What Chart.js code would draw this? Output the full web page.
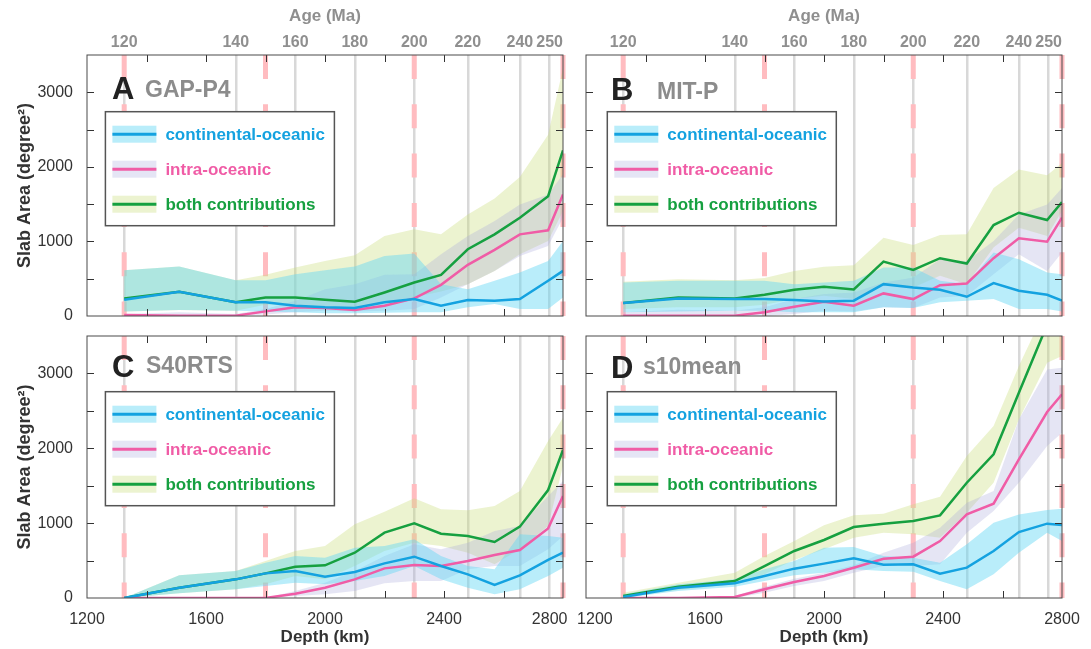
<!DOCTYPE html>
<html>
<head>
<meta charset="utf-8">
<script src="https://cdn.jsdelivr.net/npm/chart.js@4/dist/chart.umd.min.js"></script>
<style>
  body { margin: 0; background: #fff; width: 1091px; height: 649px; position: relative; overflow: hidden; }
  canvas { position: absolute; }
</style>
</head>
<body>
<canvas id="pA" width="575" height="330" style="left:0;top:0"></canvas>
<canvas id="pB" width="521" height="330" style="left:570px;top:0"></canvas>
<canvas id="pC" width="575" height="329" style="left:0;top:320px"></canvas>
<canvas id="pD" width="521" height="329" style="left:570px;top:320px"></canvas>
<script>
// sample depths (km), one per 10 Myr from 120 Ma
const depths = [1325, 1510, 1700, 1800, 1900, 2000, 2100, 2200, 2300, 2390, 2480, 2570, 2655, 2750, 2800]

// top axis: ages and the depth they sit at
const ageTicks = [120, 140, 160, 180, 200, 220, 240, 250]
const ageTickDepths = [1325, 1700, 1900, 2100, 2300, 2480, 2655, 2755]
const boundaryDepths = [1325, 1800, 2300, 2800]

const depthLabels = [1200, 1600, 2000, 2400, 2800]
const depthMinor = [1400, 1600, 1800, 2000, 2200, 2400, 2600]
const areaLabels = [0, 1000, 2000, 3000]
const areaMinor = [500, 1000, 1500, 2000, 2500, 3000]

const seriesNames = ['continental-oceanic', 'intra-oceanic', 'both contributions']

// A  GAP-P4
const gapCO   = [218, 325, 183, 183, 138, 116, 107, 183, 227, 138, 214, 205, 227, 472, 605]
const gapCOHi = [614, 663, 481, 481, 561, 614, 663, 806, 837, 427, 360, 472, 583, 739, 1006]
const gapCOLo = [62, 80, 71, 62, 49, 36, 36, 45, 49, 49, 116, 160, 93, 93, 249]
const gapIO   = [13, 4, 4, 62, 116, 107, 80, 138, 236, 418, 686, 886, 1095, 1149, 1629]
const gapIOHi = [27, 49, 27, 93, 205, 360, 427, 552, 561, 828, 1073, 1273, 1496, 1629, 1900]
const gapIOLo = [0, 0, 0, 20, 49, 71, 62, 71, 93, 249, 427, 605, 806, 939, 1318]
const gapBoth   = [236, 325, 183, 249, 249, 218, 191, 316, 450, 552, 895, 1095, 1318, 1607, 2222]
const gapBothHi = [614, 663, 481, 552, 650, 739, 815, 1073, 1162, 1095, 1362, 1576, 1865, 2431, 3321]
const gapBothLo = [62, 80, 71, 150, 150, 120, 110, 180, 250, 330, 427, 605, 828, 1006, 1407]

// B  MIT-P
const mitCO   = [174, 236, 227, 227, 214, 196, 205, 427, 383, 352, 258, 441, 338, 285, 205]
const mitCOHi = [450, 472, 472, 472, 427, 450, 472, 650, 650, 472, 427, 850, 761, 583, 561]
const mitCOLo = [49, 62, 71, 71, 49, 49, 49, 116, 107, 183, 205, 227, 93, 93, 62]
const mitIO   = [4, 4, 4, 49, 125, 191, 138, 303, 227, 414, 436, 775, 1042, 997, 1318]
const mitIOHi = [49, 85, 71, 116, 227, 294, 316, 450, 516, 761, 739, 1006, 1362, 1496, 1718]
const mitIOLo = [0, 0, 0, 0, 27, 71, 62, 116, 107, 249, 272, 561, 828, 605, 850]
const mitBoth   = [174, 249, 236, 285, 352, 392, 356, 730, 619, 775, 703, 1220, 1385, 1287, 1527]
const mitBothHi = [459, 494, 481, 508, 605, 659, 681, 1051, 953, 1086, 1095, 1718, 1963, 1888, 2052]
const mitBothLo = [93, 116, 116, 151, 227, 272, 227, 427, 383, 539, 427, 917, 1184, 1073, 1407]

// C  S40RTS
const s40CO   = [0, 138, 249, 329, 361, 285, 347, 463, 552, 427, 316, 174, 303, 508, 605]
const s40COHi = [0, 303, 361, 472, 561, 539, 672, 695, 784, 561, 427, 383, 850, 828, 806]
const s40COLo = [0, 62, 116, 160, 205, 183, 227, 294, 427, 249, 138, 49, 116, 294, 405]
const s40IO   = [0, 0, 0, 0, 58, 138, 249, 396, 441, 427, 494, 574, 641, 930, 1362]
const s40IOHi = [0, 0, 0, 0, 93, 205, 361, 561, 717, 650, 739, 895, 962, 1362, 1563]
const s40IOLo = [0, 0, 0, 0, 27, 49, 93, 196, 227, 227, 383, 427, 427, 650, 828]
const s40Both   = [0, 138, 249, 329, 418, 436, 605, 873, 997, 859, 828, 748, 953, 1442, 1977]
const s40BothHi = [0, 303, 361, 494, 628, 695, 984, 1153, 1331, 1184, 1171, 1229, 1429, 2097, 2409]
const s40BothLo = [0, 62, 116, 183, 294, 249, 427, 628, 739, 695, 605, 450, 650, 962, 1763]

// D  s10mean
const s10CO   = [13, 138, 196, 294, 392, 459, 530, 445, 450, 325, 405, 628, 881, 993, 975]
const s10COHi = [49, 183, 249, 383, 494, 672, 681, 561, 539, 472, 717, 1006, 1117, 1175, 1193]
const s10COLo = [0, 93, 151, 227, 303, 338, 383, 361, 352, 227, 116, 316, 605, 873, 761]
const s10IO   = [0, 0, 13, 116, 214, 294, 405, 525, 552, 761, 1117, 1260, 1852, 2484, 2720]
const s10IOHi = [0, 0, 27, 151, 258, 338, 436, 605, 739, 939, 1273, 1429, 2386, 3054, 3076]
const s10IOLo = [0, 0, 0, 71, 160, 227, 338, 427, 427, 450, 873, 1162, 1540, 2030, 2208]
const s10Both   = [27, 151, 227, 427, 628, 775, 948, 993, 1028, 1104, 1540, 1919, 2742, 3650, 4100]
const s10BothHi = [71, 205, 338, 561, 761, 971, 1104, 1126, 1251, 1353, 1897, 2297, 3099, 3900, 4300]
const s10BothLo = [4, 107, 183, 316, 508, 650, 806, 873, 850, 806, 1140, 1540, 2386, 3143, 3232]

const FONT = "'Liberation Sans', Arial, Helvetica, sans-serif"
const LINE = ['rgb(20,162,224)', 'rgb(240,92,166)', 'rgb(22,160,64)']
const BAND = ['rgba(100,215,245,0.45)', 'rgba(170,170,220,0.3)', 'rgba(200,220,120,0.35)']
const SWATCH = ['rgb(185,237,250)', 'rgb(229,229,245)', 'rgb(236,243,208)']

const pts = v => depths.map((d, i) => ({ x: d, y: v[i] }))

const decor = {
    id: 'decor',
    beforeDatasetsDraw(chart) {
        const { ctx, chartArea: a, scales: { x } } = chart
        ctx.save()
        ctx.strokeStyle = 'rgb(255,188,192)'
        ctx.lineWidth = 5
        ctx.setLineDash([24, 25.3])
        boundaryDepths.forEach(d => {
            const px = x.getPixelForValue(d)
            ctx.beginPath()
            ctx.moveTo(px, a.top)
            ctx.lineTo(px, a.bottom)
            ctx.stroke()
        })
        ctx.restore()
    },
    afterDatasetsDraw(chart) {
        const { ctx, chartArea: a, scales: { x, y } } = chart
        ctx.save()
        ctx.strokeStyle = '#333'
        ctx.lineWidth = 1
        ctx.beginPath()
        depthMinor.forEach(d => {
            const px = Math.round(x.getPixelForValue(d)) + 0.5
            ctx.moveTo(px, a.bottom); ctx.lineTo(px, a.bottom - 7)
            ctx.moveTo(px, a.top); ctx.lineTo(px, a.top + 7)
        })
        areaMinor.forEach(v => {
            const py = Math.round(y.getPixelForValue(v)) + 0.5
            ctx.moveTo(a.left, py); ctx.lineTo(a.left + 7, py)
            ctx.moveTo(a.right, py); ctx.lineTo(a.right - 7, py)
        })
        ctx.stroke()
        ctx.strokeStyle = '#4a4a4a'
        ctx.strokeRect(a.left, a.top, a.right - a.left, a.bottom - a.top)
        ctx.restore()
    },
    afterDraw(chart, args, o) {
        const { ctx, chartArea: a } = chart
        ctx.save()
        ctx.textBaseline = 'alphabetic'
        ctx.textAlign = 'left'
        ctx.fillStyle = '#222'
        ctx.font = `bold 31px ${FONT}`
        ctx.fillText(o.letter, a.left + 25, a.top + o.letterY)
        ctx.fillStyle = '#8c8c8c'
        ctx.font = `bold 23px ${FONT}`
        ctx.fillText(o.name, a.left + o.nameX, a.top + o.nameY)

        const bx = a.left + o.boxX, by = a.top + o.boxY
        ctx.fillStyle = '#fff'
        ctx.fillRect(bx, by, 229, 114)
        ctx.strokeStyle = '#555'
        ctx.lineWidth = 1.5
        ctx.strokeRect(bx, by, 229, 114)
        ctx.font = `bold 17px ${FONT}`
        ctx.textBaseline = 'middle'
        seriesNames.forEach((n, i) => {
            const cy = by + 22.5 + i * 35
            ctx.fillStyle = SWATCH[i]
            ctx.fillRect(bx + 7, cy - 8.5, 44, 17)
            ctx.strokeStyle = LINE[i]
            ctx.lineWidth = 3
            ctx.beginPath()
            ctx.moveTo(bx + 7, cy)
            ctx.lineTo(bx + 51, cy)
            ctx.stroke()
            ctx.fillStyle = LINE[i]
            ctx.fillText(n, bx + 60, cy + 1)
        })
        ctx.restore()
    }
}

function panel(id, series, p) {
    const [co, coHi, coLo, io, ioHi, ioLo, both, bothHi, bothLo] = series
    const line = (v, i) => ({ data: pts(v), borderColor: LINE[i], borderWidth: 2.5, fill: false, order: 0 })
    const band = (v, i, f) => ({ data: pts(v), borderWidth: 0, backgroundColor: BAND[i], fill: f ? '+1' : false, order: i + 1 })
    const tickFont = { family: FONT, size: 16 }
    const config = {
        type: 'line',
        data: {
            datasets: [
                line(co, 0), line(io, 1), line(both, 2),
                band(coHi, 0, true), band(coLo, 0, false),
                band(ioHi, 1, true), band(ioLo, 1, false),
                band(bothHi, 2, true), band(bothLo, 2, false)
            ]
        },
        options: {
            responsive: false,
            animation: false,
            layout: { padding: p.pad },
            elements: { point: { radius: 0 }, line: { tension: 0 } },
            plugins: {
                legend: { display: false },
                tooltip: { enabled: false },
                decor: p.decor
            },
            scales: {
                x: {
                    type: 'linear', min: 1200, max: 2800,
                    display: p.bottom,
                    afterBuildTicks: s => { s.ticks = depthLabels.map(v => ({ value: v })) },
                    afterFit: s => { s.height = p.bottom ? 51 : 0; s.paddingLeft = 0; s.paddingRight = 0 },
                    grid: { display: false },
                    border: { display: false },
                    ticks: {
                        autoSkip: false, maxRotation: 0, padding: 4,
                        color: '#333', font: tickFont,
                        callback: v => p.labelFix(v)
                    },
                    title: {
                        display: true, text: 'Depth (km)', color: '#333',
                        font: { family: FONT, size: 17, weight: 'bold' },
                        padding: { top: 0, bottom: 1 }
                    }
                },
                x2: {
                    type: 'linear', position: 'top', min: 1200, max: 2800,
                    afterBuildTicks: s => { s.ticks = ageTickDepths.map(v => ({ value: v })) },
                    afterFit: s => { s.height = p.top ? 55 : 0; s.paddingLeft = 0; s.paddingRight = 0 },
                    grid: { color: '#d8d8d8', lineWidth: 2.5, drawTicks: false },
                    border: { display: false },
                    ticks: {
                        display: p.top, autoSkip: false, maxRotation: 0, padding: 3,
                        color: '#8f8f8f', font: { family: FONT, size: 16, weight: 'bold' },
                        callback: (v, i) => ageTicks[i]
                    },
                    title: {
                        display: p.top, text: 'Age (Ma)', color: '#8f8f8f',
                        font: { family: FONT, size: 17, weight: 'bold' },
                        padding: { top: 6, bottom: 0 }
                    }
                },
                y: {
                    min: 0, max: 3500,
                    display: p.left,
                    afterBuildTicks: s => { s.ticks = areaLabels.map(v => ({ value: v })) },
                    afterFit: s => { s.width = p.left ? 87 : 0; s.paddingTop = 0; s.paddingBottom = 0 },
                    grid: { display: false },
                    border: { display: false },
                    ticks: { padding: 6, color: '#333', font: tickFont, callback: v => String(v) },
                    title: {
                        display: true, text: 'Slab Area (degree²)', color: '#333',
                        font: { family: FONT, size: 18, weight: 'bold' },
                        padding: { top: 14, bottom: 0 }
                    }
                }
            }
        },
        plugins: [decor]
    }
    return new Chart(document.getElementById(id), config)
}

const plain = v => String(v)

panel('pA', [gapCO, gapCOHi, gapCOLo, gapIO, gapIOHi, gapIOLo, gapBoth, gapBothHi, gapBothLo], {
    pad: { left: 0, right: 12, top: 0, bottom: 14 }, top: true, bottom: false, left: true, labelFix: plain,
    decor: { letter: 'A', name: 'GAP-P4', letterY: 44, nameX: 58, nameY: 42, boxX: 18.4, boxY: 56.7 }
})
panel('pB', [mitCO, mitCOHi, mitCOLo, mitIO, mitIOHi, mitIOLo, mitBoth, mitBothHi, mitBothLo], {
    pad: { left: 16, right: 29, top: 0, bottom: 14 }, top: true, bottom: false, left: false, labelFix: plain,
    decor: { letter: 'B', name: 'MIT-P', letterY: 45, nameX: 71, nameY: 44, boxX: 21.3, boxY: 56.7 }
})
panel('pC', [s40CO, s40COHi, s40COLo, s40IO, s40IOHi, s40IOLo, s40Both, s40BothHi, s40BothLo], {
    pad: { left: 0, right: 12, top: 16, bottom: 0 }, top: false, bottom: true, left: true,
    labelFix: v => v === 2800 ? '2800      ' : String(v),
    decor: { letter: 'C', name: 'S40RTS', letterY: 41, nameX: 59, nameY: 37, boxX: 18.4, boxY: 55.7 }
})
panel('pD', [s10CO, s10COHi, s10COLo, s10IO, s10IOHi, s10IOLo, s10Both, s10BothHi, s10BothLo], {
    pad: { left: 16, right: 29, top: 16, bottom: 0 }, top: false, bottom: true, left: false,
    labelFix: v => v === 1200 ? '    1200' : String(v),
    decor: { letter: 'D', name: 's10mean', letterY: 41.5, nameX: 57, nameY: 37.5, boxX: 21.3, boxY: 55.7 }
})
</script>
</body>
</html>
